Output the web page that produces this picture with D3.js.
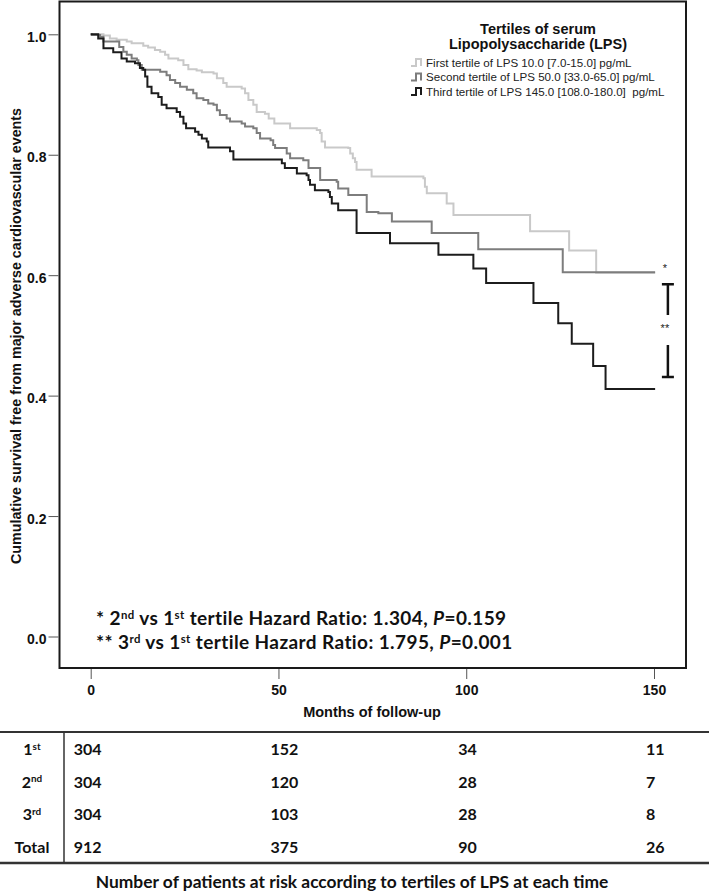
<!DOCTYPE html>
<html><head><meta charset="utf-8">
<script src="https://cdn.jsdelivr.net/npm/d3@7"></script>
<style>body{margin:0;background:#fff}</style>
</head><body>
<svg id="chart" width="709" height="892"></svg>
<script>
// ---------- DATA ----------
const seriesLabels = [
  "First tertile of LPS 10.0 [7.0-15.0] pg/mL",
  "Second tertile of LPS 50.0 [33.0-65.0] pg/mL",
  "Third tertile of LPS 145.0 [108.0-180.0]  pg/mL"
];
const legendTitle = ["Tertiles of serum", "Lipopolysaccharide (LPS)"];

const firstTime = [0,3.4,5.1,6.9,9.6,10.9,14.0,15.3,17.1,18.5,19.8,20.7,23.3,24.7,26.0,28.2,29.6,32.7,33.6,35.3,36.2,40.2,41.1,42.0,43.3,44.2,46.4,47.4,48.9,53.1,60.2,61.1,61.5,62.4,68.6,69.1,69.8,70.4,70.8,74.8,88.6,89.0,89.5,94.8,96.6,117.0,127.4,134.6,150.3];
const firstSurv = [1.0,0.998,0.993,0.991,0.988,0.985,0.981,0.978,0.974,0.971,0.966,0.960,0.957,0.949,0.942,0.940,0.937,0.935,0.927,0.919,0.913,0.910,0.902,0.891,0.883,0.871,0.868,0.860,0.852,0.844,0.841,0.836,0.822,0.812,0.811,0.802,0.794,0.788,0.775,0.764,0.761,0.747,0.736,0.719,0.700,0.673,0.641,0.604,0.604];

const secondTime = [0,0.3,2.5,3.4,7.6,8.7,9.6,10.9,12.3,12.7,13.6,18.5,20.2,21.1,22.5,23.8,25.6,27.3,28.2,30.0,31.3,32.7,33.6,34.4,36.2,37.1,40.2,41.1,43.3,44.2,45.1,47.9,48.6,49.1,52.2,53.1,56.6,58.0,61.1,65.5,65.9,68.6,73.5,76.6,80.2,90.8,103.2,125.7,150.3];
const secondSurv = [1.0,0.999,0.996,0.988,0.979,0.971,0.966,0.960,0.957,0.949,0.941,0.938,0.932,0.924,0.919,0.913,0.908,0.902,0.894,0.891,0.885,0.883,0.874,0.866,0.860,0.855,0.852,0.847,0.844,0.836,0.827,0.824,0.816,0.811,0.802,0.794,0.791,0.778,0.758,0.755,0.744,0.733,0.705,0.703,0.689,0.670,0.643,0.605,0.605];

const thirdTime = [0,2.0,3.4,6.0,8.2,9.6,11.8,13.1,14.0,14.5,15.1,16.2,18.0,18.9,20.2,22.9,23.8,24.7,25.4,27.8,28.7,29.6,30.9,31.3,37.1,38.0,50.9,51.7,54.9,57.5,58.0,58.4,59.7,63.3,63.7,64.2,65.9,70.8,79.7,92.6,101.9,105.3,117.9,124.5,128.1,133.8,137.1,150.3];
const thirdSurv = [1.0,0.993,0.977,0.970,0.960,0.955,0.952,0.944,0.941,0.930,0.913,0.902,0.896,0.883,0.877,0.871,0.863,0.852,0.844,0.838,0.833,0.827,0.822,0.812,0.806,0.792,0.786,0.778,0.769,0.766,0.758,0.750,0.741,0.738,0.730,0.719,0.708,0.670,0.653,0.634,0.611,0.587,0.554,0.520,0.486,0.449,0.411,0.411];

const xTicks = [0, 50, 100, 150];
const yTicks = [0.0, 0.2, 0.4, 0.6, 0.8, 1.0];

const riskRowMain = ["1", "2", "3", "Total"];
const riskRowSup = ["st", "nd", "rd", ""];
const riskFirst = [304, 152, 34, 11];
const riskSecond = [304, 120, 28, 7];
const riskThird = [304, 103, 28, 8];
const riskTotal = [912, 375, 90, 26];

// ---------- STYLE / LAYOUT ----------
const colors = ["#c9c9c9", "#7d7d7d", "#1c1c1c"];
const arial = "'Liberation Sans', Arial, sans-serif";
const cal = "Lato, 'Open Sans', sans-serif";
const frame = {l: 59.5, t: 1.5, r: 686, b: 668};

const svg = d3.select("#chart");
const x = d3.scaleLinear().domain([0, 150]).range([90.7, 654]);
const y = d3.scaleLinear().domain([0, 1]).range([636.5, 34.3]);

// frame
svg.append("rect").attr("x", frame.l).attr("y", frame.t)
  .attr("width", frame.r - frame.l).attr("height", frame.b - frame.t)
  .attr("fill", "none").attr("stroke", "#1a1a1a").attr("stroke-width", 2);

// y axis
const yAx = svg.append("g").attr("transform", `translate(${frame.l - 1},0)`)
  .call(d3.axisLeft(y).tickValues(yTicks).tickFormat(d3.format(".1f")).tickSize(10).tickPadding(2));
yAx.select(".domain").remove();
yAx.selectAll("line").attr("stroke", "#555");
yAx.selectAll("text").attr("font-family", arial).attr("font-weight", "bold")
  .attr("font-size", 14).attr("fill", "#111").attr("dy", "0.5em");

// x axis
const xAx = svg.append("g").attr("transform", `translate(0,${frame.b + 1})`)
  .call(d3.axisBottom(x).tickValues(xTicks).tickFormat(d3.format("d")).tickSize(10).tickPadding(6));
xAx.select(".domain").remove();
xAx.selectAll("line").attr("stroke", "#555");
xAx.selectAll("text").attr("font-family", arial).attr("font-weight", "bold")
  .attr("font-size", 14).attr("fill", "#111");

// axis titles
svg.append("text").attr("transform", `translate(21,336) rotate(-90)`)
  .attr("text-anchor", "middle").attr("font-family", arial).attr("font-weight", "bold")
  .attr("font-size", 14.3).attr("fill", "#111")
  .text("Cumulative survival free from major adverse cardiovascular events");
svg.append("text").attr("x", 372).attr("y", 717).attr("text-anchor", "middle")
  .attr("font-family", arial).attr("font-weight", "bold").attr("font-size", 14.5)
  .attr("fill", "#111").text("Months of follow-up");

// curves
const line = d3.line().x(d => x(d[0])).y(d => y(d[1])).curve(d3.curveStepAfter);
const series = [
  d3.zip(firstTime, firstSurv),
  d3.zip(secondTime, secondSurv),
  d3.zip(thirdTime, thirdSurv)
];
series.forEach((s, i) => {
  svg.append("path").datum(s).attr("d", line).attr("fill", "none")
    .attr("stroke", colors[i]).attr("stroke-width", 2).attr("stroke-linejoin", "miter");
});

// legend
svg.append("g").selectAll("text").data(legendTitle).join("text")
  .attr("x", 538).attr("y", (d, i) => 33.5 + i * 15).attr("text-anchor", "middle")
  .attr("font-family", arial).attr("font-weight", "bold").attr("font-size", 14.5)
  .attr("fill", "#111").text(d => d);
const leg = svg.append("g").selectAll("g").data(seriesLabels).join("g")
  .attr("transform", (d, i) => `translate(411,${62.5 + i * 14.5})`);
leg.append("path").attr("d", "M0,3.5H5V-3.5H10V3.5")
  .attr("fill", "none").attr("stroke", (d, i) => colors[i]).attr("stroke-width", 2);
leg.append("text").attr("x", 15).attr("y", 4).attr("font-family", arial)
  .attr("font-size", 11.6).attr("fill", "#222").style("white-space", "pre").text(d => d);

// significance annotations
const ax = x(153.7);
svg.append("text").attr("x", ax - 3).attr("y", y(0.612) + 4).attr("text-anchor", "middle")
  .attr("font-family", arial).attr("font-size", 11).attr("fill", "#222").text("*");
svg.append("text").attr("x", ax - 3).attr("y", y(0.512) + 4).attr("text-anchor", "middle")
  .attr("font-family", arial).attr("font-size", 11).attr("fill", "#222").text("**");
const br = svg.append("g").attr("stroke", "#111").attr("stroke-width", 2.5).attr("fill", "none");
br.append("path").attr("d", `M${ax - 6},${y(0.585)}H${ax + 6}M${ax},${y(0.585)}V${y(0.534)}`);
br.append("path").attr("d", `M${ax - 6},${y(0.431)}H${ax + 6}M${ax},${y(0.431)}V${y(0.484)}`);

// hazard ratio text
function supText(sel, parts) {
  let raised = false;
  parts.forEach(p => {
    const t = sel.append("tspan").text(p.t);
    if (p.sup) { t.attr("font-size", "0.6em").attr("dy", -6); raised = true; }
    else if (raised) { t.attr("dy", 6); raised = false; }
    if (p.it) t.attr("font-style", "italic");
  });
}
const hr1 = svg.append("text").attr("x", 96).attr("y", 625).attr("font-family", cal)
  .attr("font-weight", "bold").attr("font-size", 19).attr("letter-spacing", 0.4).attr("fill", "#111");
supText(hr1, [{t: "* 2"}, {t: "nd", sup: true}, {t: " vs 1"}, {t: "st", sup: true},
  {t: " tertile Hazard Ratio: 1.304, "}, {t: "P", it: true}, {t: "=0.159"}]);
const hr2 = svg.append("text").attr("x", 96).attr("y", 648.5).attr("font-family", cal)
  .attr("font-weight", "bold").attr("font-size", 19).attr("letter-spacing", 0.4).attr("fill", "#111");
supText(hr2, [{t: "** 3"}, {t: "rd", sup: true}, {t: " vs 1"}, {t: "st", sup: true},
  {t: " tertile Hazard Ratio: 1.795, "}, {t: "P", it: true}, {t: "=0.001"}]);

// risk table
const tTop = 732, tBot = 863;
svg.append("line").attr("x1", 0).attr("x2", 709).attr("y1", tTop).attr("y2", tTop)
  .attr("stroke", "#333").attr("stroke-width", 2);
svg.append("line").attr("x1", 0).attr("x2", 709).attr("y1", tBot).attr("y2", tBot)
  .attr("stroke", "#333").attr("stroke-width", 2.5);
svg.append("line").attr("x1", 64).attr("x2", 64).attr("y1", tTop).attr("y2", tBot)
  .attr("stroke", "#333").attr("stroke-width", 1.5);
const rowY = d3.scalePoint().domain(riskRowMain).range([749, 847]);
const riskData = [riskFirst, riskSecond, riskThird, riskTotal];
riskRowMain.forEach((r, i) => {
  const t = svg.append("text").attr("x", 32).attr("y", rowY(r) + 6).attr("text-anchor", "middle")
    .attr("font-family", cal).attr("font-weight", "bold").attr("font-size", 16).attr("fill", "#111");
  t.append("tspan").text(r);
  if (riskRowSup[i]) t.append("tspan").attr("font-size", "0.62em").attr("dy", -5.5).text(riskRowSup[i]);
  riskData[i].forEach((v, j) => {
    svg.append("text").attr("x", x(xTicks[j]) - (j === 0 ? 17 : 8)).attr("y", rowY(r) + 6)
      .attr("font-family", cal).attr("font-weight", "bold").attr("font-size", 16)
      .attr("fill", "#111").text(v);
  });
});
svg.append("text").attr("x", 352).attr("y", 888).attr("text-anchor", "middle")
  .attr("font-family", cal).attr("font-weight", "bold").attr("font-size", 17.4).attr("fill", "#111")
  .text("Number of patients at risk according to tertiles of LPS at each time");
</script>
</body></html>
